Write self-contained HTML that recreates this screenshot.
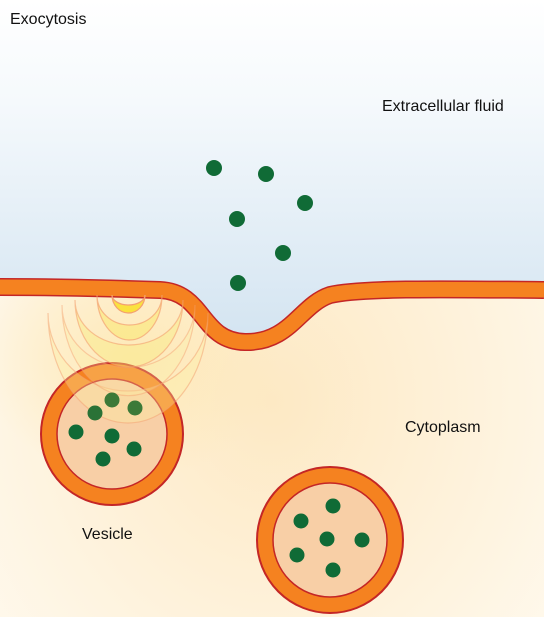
<!DOCTYPE html>
<html><head><meta charset="utf-8"><style>
html,body{margin:0;padding:0;background:#fff}
svg{display:block}
text{font-family:"Liberation Sans",Arial,sans-serif;font-size:16px;fill:#111}
</style></head><body>
<svg width="544" height="617" viewBox="0 0 544 617">
<defs>
<linearGradient id="fluid" x1="0" y1="0" x2="0" y2="1">
<stop offset="0" stop-color="#ffffff"/><stop offset="0.3" stop-color="#f5f9fc"/><stop offset="1" stop-color="#d3e4f1"/>
</linearGradient>
<radialGradient id="cyto" cx="0.5" cy="0.65" r="0.7">
<stop offset="0" stop-color="#fde9c4"/><stop offset="1" stop-color="#fffaf0"/>
</radialGradient>
<radialGradient id="glow" cx="0.5" cy="0.5" r="0.5">
<stop offset="0" stop-color="#fde8b0" stop-opacity="0.8"/><stop offset="1" stop-color="#fde8b0" stop-opacity="0"/>
</radialGradient>
</defs>
<rect x="0" y="0" width="544" height="617" fill="url(#cyto)"/>
<ellipse cx="130" cy="360" rx="150" ry="120" fill="url(#glow)"/>
<path d="M0,0 H544 V290 C440,289 360,288 330,295 C300,305 290,343 245,342 C200,341 205,292 160,290 C100,288 50,287 0,287 Z" fill="url(#fluid)"/>
<path d="M0,287 C50,287 100,288 160,290 C205,292 200,341 245,342 C290,343 300,305 330,295 C360,288 440,289 544,290" fill="none" stroke="#c42626" stroke-width="18"/>
<path d="M0,287 C50,287 100,288 160,290 C205,292 200,341 245,342 C290,343 300,305 330,295 C360,288 440,289 544,290" fill="none" stroke="#f58220" stroke-width="15"/>
<g>
<circle cx="112" cy="434" r="71" fill="#f58220" stroke="#c42626" stroke-width="2"/>
<circle cx="112" cy="434" r="55" fill="#f8cfa6" stroke="#c42626" stroke-width="1.5"/>
</g>
<g>
<circle cx="330" cy="540" r="73" fill="#f58220" stroke="#c42626" stroke-width="2"/>
<circle cx="330" cy="540" r="57" fill="#f8cfa6" stroke="#c42626" stroke-width="1.5"/>
</g>
<g stroke="#f4a070" stroke-width="1.2">
<path d="M48,313 A80,110 0 0 0 208,313 A80,78 0 0 1 48,313 Z" fill="#fbeea0" fill-opacity="0.35" stroke-opacity="0.5"/>
<path d="M62,305 A66,90 0 0 0 195,305 A66,62 0 0 1 62,305 Z" fill="#fbeea0" fill-opacity="0.3" stroke-opacity="0.45"/>
<path d="M75,300 A54,67 0 0 0 183,300 A54,45 0 0 1 75,300 Z" fill="#f9ea80" fill-opacity="0.45" stroke-opacity="0.6"/>
<path d="M97,295 A32.5,45 0 0 0 162,295 A32.5,30 0 0 1 97,295 Z" fill="#f9e870" fill-opacity="0.55" stroke-opacity="0.7"/>
<path d="M112,295 A16.5,18 0 0 0 145,295 A16.5,10 0 0 1 112,295 Z" fill="#f9e030" fill-opacity="0.9"/>
</g>
<g fill="#106b36">
<circle cx="214" cy="168" r="8"/><circle cx="266" cy="174" r="8"/><circle cx="305" cy="203" r="8"/>
<circle cx="237" cy="219" r="8"/><circle cx="283" cy="253" r="8"/><circle cx="238" cy="283" r="8"/>
<circle cx="112" cy="400" r="7.5" fill="#3c7a38"/><circle cx="135" cy="408" r="7.5" fill="#3c7a38"/><circle cx="95" cy="413" r="7.5" fill="#2a7236"/>
<circle cx="76" cy="432" r="7.5"/><circle cx="112" cy="436" r="7.5"/><circle cx="134" cy="449" r="7.5"/><circle cx="103" cy="459" r="7.5"/>
<circle cx="333" cy="506" r="7.5"/><circle cx="301" cy="521" r="7.5"/><circle cx="327" cy="539" r="7.5"/>
<circle cx="362" cy="540" r="7.5"/><circle cx="297" cy="555" r="7.5"/><circle cx="333" cy="570" r="7.5"/>
</g>
<text x="10" y="24">Exocytosis</text>
<text x="382" y="111">Extracellular fluid</text>
<text x="405" y="432">Cytoplasm</text>
<text x="82" y="539">Vesicle</text>
</svg>
</body></html>
